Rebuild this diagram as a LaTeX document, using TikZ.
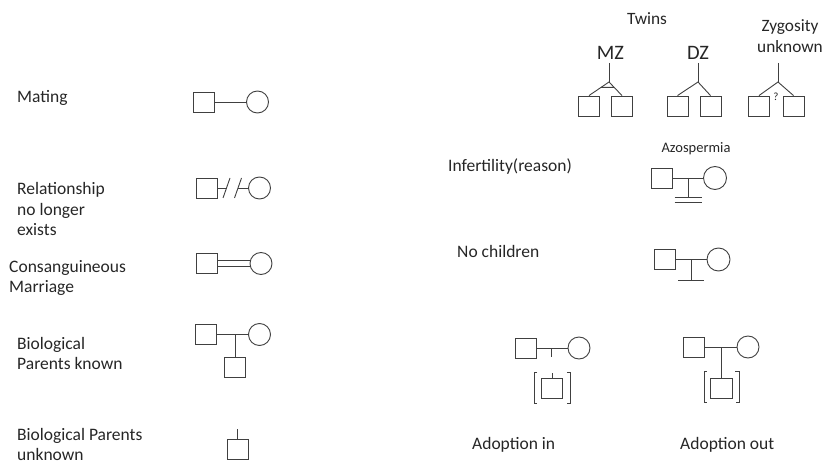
\documentclass[tikz,border=0pt]{standalone}
\usepackage{fontspec}
\setmainfont{Carlito}
\usetikzlibrary{positioning}
\tikzset{
  male/.style={draw=black!75, line width=0.9pt, minimum width=21pt, minimum height=20pt, inner sep=0pt},
  female/.style={draw=black!75, line width=0.9pt, circle, minimum size=22pt, inner sep=0pt},
  tie/.style={draw=black!75, line width=0.9pt},
  lbl/.style={anchor=base west, align=left, inner sep=0pt, text=black!85,
    font=\fontsize{17.5}{20.5}\selectfont},
  ctr/.style={anchor=base, align=center, inner sep=0pt, text=black!85,
    font=\fontsize{17.3}{21}\selectfont},
}
\begin{document}
\begin{tikzpicture}[x=1pt, y=-1pt]
  \useasboundingbox (0,0) rectangle (827,465);
  % left column (multi-line labels sit on their last line)
  \node[lbl] (tMating) at (17,103) {Mating};
  \node[lbl] (tRel) at (17,236) {Relationship\\no longer\\exists};
  \node[lbl] (tCons) at (9,292.5) {Consanguineous\\Marriage};
  \node[lbl] (tBio) at (17,369.5) {Biological\\Parents known};
  \node[lbl] (tBioU) at (17,460.5) {Biological Parents\\unknown};

  \node[male] (m1) at (203.5,102) {};
  \node[female] (f1) at (257.5,102) {};
  \draw[tie] (m1) -- (f1);

  \node[male] (m2) at (207,188) {};
  \node[female] (f2) at (259.5,188) {};
  \coordinate (s1) at (226.5,188);
  \coordinate (s2) at (238,188);
  \draw[tie] (m2) -- (s1);
  \draw[tie] (s2) -- (f2);
  \draw[tie] ([shift={(-3.5pt,-10pt)}]s1) -- ([shift={(3.5pt,10pt)}]s1);
  \draw[tie] ([shift={(-3.5pt,-10pt)}]s2) -- ([shift={(3.5pt,10pt)}]s2);

  \node[male] (m3) at (207,263.5) {};
  \node[female] (f3) at (261,263.5) {};
  \draw[tie] ([yshift=2.7pt]m3.east) -- ([yshift=2.7pt]f3.west);
  \draw[tie] ([yshift=-2.7pt]m3.east) -- ([yshift=-2.7pt]f3.west);

  \node[male] (m4) at (205.5,334.5) {};
  \node[female] (f4) at (259.5,334.5) {};
  \node[male] (c4) at (235,367.5) {};
  \draw[tie] (m4) -- (f4);
  \draw[tie] (c4.north |- m4.east) -- (c4);

  \node[male] (c5) at (237.5,449.5) {};
  \coordinate (u5) at (237.5,429);
  \draw[tie] (u5) -- (c5);

  % twins
  \node[ctr] (tTwins) at (647,25) {Twins};
  \node[ctr, font=\fontsize{20.5}{24}\selectfont] (tMZ) at (610.5,60) {MZ};
  \node[ctr, font=\fontsize{20.5}{24}\selectfont] (tDZ) at (698,60) {DZ};
  \node[ctr] (tZyg) at (790,53) {Zygosity\\unknown};

  \coordinate (mzT) at (609,63);
  \coordinate (mzA) at (609,82);
  \node[male] (mz1) at (589,106) {};
  \node[male] (mz2) at (622,106) {};
  \draw[tie] (mzT) -- (mzA);
  \draw[tie] (mz1.north) -- coordinate[pos=0.6] (mzL) (mzA)
    -- coordinate[pos=0.4] (mzR) (mz2.north);
  \draw[tie] (mzL) -- (mzR);

  \coordinate (dzT) at (698,63);
  \coordinate (dzA) at (698,82);
  \node[male] (dz1) at (677.5,106) {};
  \node[male] (dz2) at (710.5,106) {};
  \draw[tie] (dzT) -- (dzA);
  \draw[tie] (dz1.north) -- (dzA) -- (dz2.north);

  \coordinate (zuT) at (778,63);
  \coordinate (zuA) at (778,82);
  \node[male] (zu1) at (759,106) {};
  \node[male] (zu2) at (793.5,106) {};
  \draw[tie] (zuT) -- (zuA);
  \draw[tie] (zu1.north) -- (zuA) -- (zu2.north);
  \node[inner sep=0pt, text=black!85, font=\fontsize{11}{13}\selectfont] (zuQ) at (776,97) {?};

  % infertility
  \node[lbl] (tInf) at (448,172) {Infertility(reason)};
  \node[ctr, font=\fontsize{14.5}{17}\selectfont] (tAzo) at (696,153) {Azospermia};
  \node[male] (mi) at (661.5,178) {};
  \node[female, minimum size=23pt] (fi) at (715,178) {};
  \coordinate (iB) at (688,197);
  \coordinate (iBL) at (674.5,197);
  \coordinate (iBR) at (701.5,197);
  \coordinate (iCL) at (674.5,202);
  \coordinate (iCR) at (701.5,202);
  \draw[tie] (mi) -- (fi);
  \draw[tie] (iB |- mi.east) -- (iB);
  \draw[tie] (iBL) -- (iBR);
  \draw[tie] (iCL) -- (iCR);

  % no children
  \node[lbl] (tNo) at (457,257) {No children};
  \node[male] (mn) at (664.5,259.5) {};
  \node[female, minimum size=23pt] (fn) at (718.5,259.5) {};
  \coordinate (nB) at (691,280);
  \coordinate (nBL) at (678,280);
  \coordinate (nBR) at (704,280);
  \draw[tie] (mn) -- (fn);
  \draw[tie] (nB |- mn.east) -- (nB);
  \draw[tie] (nBL) -- (nBR);

  % adoption
  \node[lbl] (tAdIn) at (472,449) {Adoption in};
  \node[male] (ma) at (525.5,348) {};
  \node[female] (fa) at (579,348) {};
  \node[male] (ca) at (552,388) {};
  \coordinate (aT) at (551,357);
  \draw[tie] (ma) -- (fa);
  \draw[tie] (aT |- ma.east) -- (aT);
  \draw[tie] (ca.north) -- ++(0pt,5pt);
  \draw[tie] ([xshift=-4pt,yshift=5pt]ca.north west) -| ([xshift=-7pt,yshift=-5pt]ca.south west) -- ++(3pt,0pt);
  \draw[tie] ([xshift=4pt,yshift=5pt]ca.north east) -| ([xshift=7pt,yshift=-5pt]ca.south east) -- ++(-3pt,0pt);

  \node[lbl] (tAdOut) at (680,449) {Adoption out};
  \node[male] (mo) at (694,347) {};
  \node[female] (fo) at (748,347) {};
  \node[male, minimum width=22pt] (co) at (721,388) {};
  \draw[tie] (mo) -- (fo);
  \draw[tie] (co.north |- mo.east) -- (co);
  \draw[tie] ([xshift=-3pt,yshift=6pt]co.north west) -| ([xshift=-5.5pt,yshift=-4pt]co.south west) -- ++(3pt,0pt);
  \draw[tie] ([xshift=3pt,yshift=6pt]co.north east) -| ([xshift=6.5pt,yshift=-4pt]co.south east) -- ++(-3pt,0pt);
\end{tikzpicture}
\end{document}
